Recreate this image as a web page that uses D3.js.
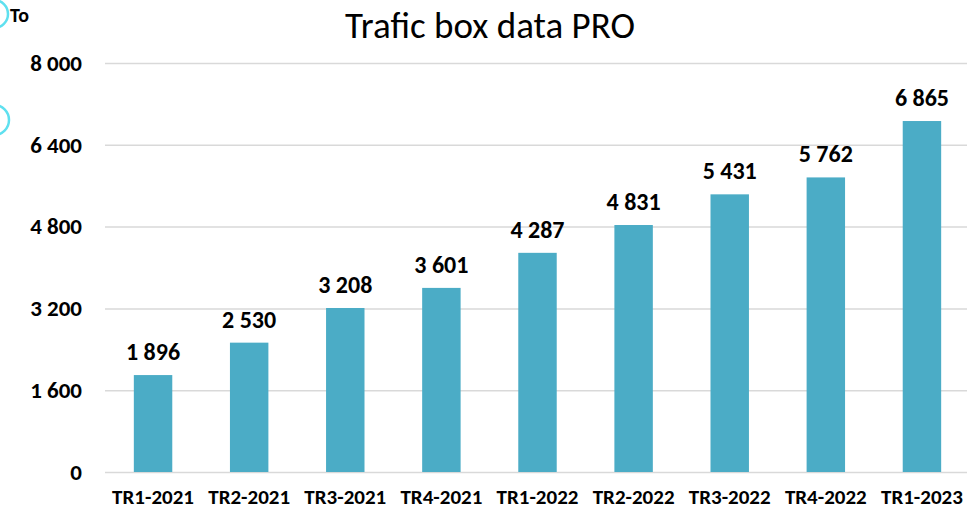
<!DOCTYPE html>
<html>
<head>
<meta charset="utf-8">
<script src="https://cdn.jsdelivr.net/npm/d3@7/dist/d3.min.js"></script>
<style>
  html, body { margin: 0; padding: 0; background: #ffffff; }
  svg { display: block; }
</style>
</head>
<body>
<svg id="chart" width="967" height="511"></svg>
<script>
// Quarterly traffic figures
const quarters = ["TR1-2021", "TR2-2021", "TR3-2021", "TR4-2021", "TR1-2022", "TR2-2022", "TR3-2022", "TR4-2022", "TR1-2023"];
const volumes = [1896, 2530, 3208, 3601, 4287, 4831, 5431, 5762, 6865];
const yTicks = [0, 1600, 3200, 4800, 6400, 8000];
const chartTitle = "Trafic box data PRO";
const unitLabel = "To";

const W = 967, H = 511;
const margin = { top: 63, right: -3, bottom: 39, left: 105 };
const font = "Carlito, Calibri, 'Open Sans', 'Noto Sans', sans-serif";
const fmt = d => d3.format(",")(d).replace(/,/g, " ");

const svg = d3.select("#chart");

// decorative rings on the left edge
svg.append("circle").attr("cx", -6).attr("cy", 14).attr("r", 14)
  .attr("fill", "none").attr("stroke", "#5fe0ef").attr("stroke-width", 2.5);
svg.append("circle").attr("cx", -6).attr("cy", 120).attr("r", 15)
  .attr("fill", "none").attr("stroke", "#5fe0ef").attr("stroke-width", 2.5);

const x = d3.scaleBand()
  .domain(quarters)
  .range([margin.left, W - margin.right])
  .paddingInner(0.6)
  .paddingOuter(0.3);

const y = d3.scaleLinear()
  .domain([0, 8000])
  .range([H - margin.bottom, margin.top]);

// horizontal gridlines and value axis
const yAxis = d3.axisLeft(y).tickValues(yTicks).tickSize(0).tickFormat(fmt);
const gy = svg.append("g").attr("transform", `translate(${margin.left},0)`).call(yAxis);
gy.select(".domain").remove();
gy.selectAll(".tick line")
  .attr("x2", W - margin.left)
  .attr("stroke", "#d9d9d9").attr("stroke-width", 1.5);
gy.selectAll(".tick text")
  .attr("x", -23)
  .attr("fill", "#000").attr("font-family", font)
  .attr("font-size", 23).attr("font-weight", "bold");

// bars
svg.append("g").selectAll("rect")
  .data(volumes)
  .join("rect")
  .attr("x", (d, i) => x(quarters[i]))
  .attr("y", d => y(d))
  .attr("width", x.bandwidth())
  .attr("height", d => y(0) - y(d))
  .attr("fill", "#4bacc6");

// value labels
svg.append("g").selectAll("text")
  .data(volumes)
  .join("text")
  .attr("x", (d, i) => x(quarters[i]) + x.bandwidth() / 2)
  .attr("y", d => y(d) - 15)
  .attr("text-anchor", "middle")
  .attr("font-family", font).attr("font-size", 24).attr("font-weight", "bold")
  .attr("fill", "#000")
  .text(fmt);

// category axis
const xAxis = d3.axisBottom(x).tickSize(0);
const gx = svg.append("g").attr("transform", `translate(0,${H - margin.bottom})`).call(xAxis);
gx.select(".domain").remove();
gx.selectAll(".tick text")
  .attr("dy", 0).attr("y", 32)
  .attr("fill", "#000").attr("font-family", font)
  .attr("font-size", 21).attr("font-weight", "bold");

// title and unit
svg.append("text")
  .attr("x", 490).attr("y", 38)
  .attr("text-anchor", "middle")
  .attr("font-family", font).attr("font-size", 37)
  .attr("fill", "#000")
  .text(chartTitle);

svg.append("text")
  .attr("x", 10).attr("y", 22)
  .attr("font-family", font).attr("font-size", 20).attr("font-weight", "bold")
  .attr("fill", "#000")
  .text(unitLabel);
</script>
</body>
</html>
